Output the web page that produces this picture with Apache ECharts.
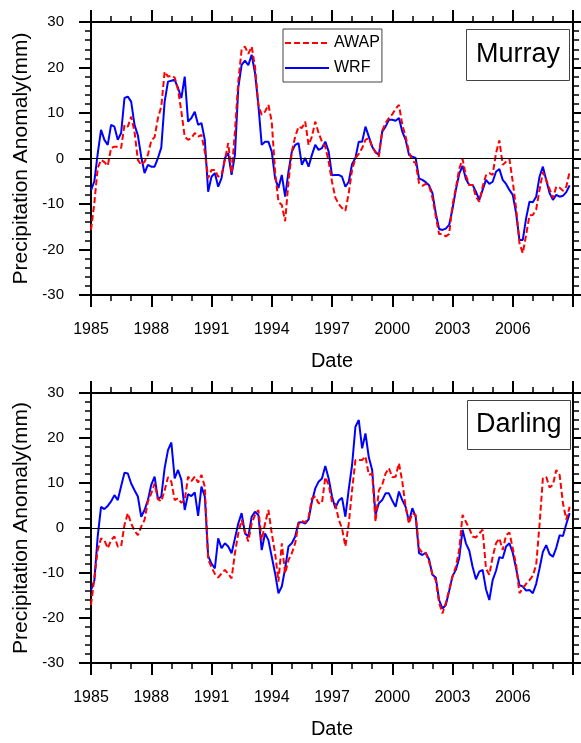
<!DOCTYPE html>
<html><head><meta charset="utf-8">
<script src="https://cdn.jsdelivr.net/npm/echarts@6/dist/echarts.min.js"></script>
<style>html,body{margin:0;padding:0;background:#fff}#c{width:581px;height:743px}</style>
</head><body><div id="c"></div>
<script>
const startYear = 1985;
const monthStep = 2;
const xTickLabels = ['1985','1988','1991','1994','1997','2000','2003','2006'];
const seriesNames = ['AWAP','WRF'];
const panelNames = ['Murray','Darling'];

const murrayAwap = [-15.7,-9.8,-2.1,-0.3,-0.8,-1.6,2.3,2.6,2.6,2.3,7.4,7.0,9.2,5.9,-0.3,-1.4,-0.7,0.8,3.9,4.7,
8.9,11.4,19.1,18.0,18.2,17.8,15.1,10.3,4.8,4.1,4.5,5.6,4.8,5.2,1.5,-4.3,-2.5,-2.5,-4.0,-3.6,
-0.3,3.4,-3.2,5.9,16.9,23.9,24.6,23.0,24.6,20.2,11.8,9.6,10.3,11.8,8.1,-2.9,-9.5,-10.2,-13.8,-5.1,
1.5,4.8,7.0,6.7,8.1,3.0,4.8,8.1,5.6,3.7,2.6,-0.7,-5.1,-8.6,-10.0,-10.9,-11.5,-7.6,-2.5,0.1,
1.0,2.3,4.1,4.5,2.6,1.4,0.4,6.1,7.8,8.9,9.7,10.9,11.8,7.4,4.8,1.5,-0.5,-1.0,-5.4,-6.0,
-5.6,-6.0,-8.6,-12.7,-16.6,-16.6,-17.1,-16.6,-10.2,-6.5,-2.3,-0.1,-3.7,-5.8,-5.8,-8.4,-9.5,-6.2,-3.7,-3.2,
-3.6,1.2,4.0,-1.4,-0.7,-0.1,-5.1,-10.9,-18.6,-20.8,-16.8,-12.5,-12.4,-11.2,-6.9,-3.0,-4.7,-6.7,-8.7,-6.2,
-6.4,-7.1,-6.2,-2.9];
const murrayWrf = [-7,-5,1,6.3,4.1,3.0,7.4,7.0,4.1,5.6,13.3,13.6,12.5,7.4,5.1,0.4,-3.2,-1.4,-1.8,-1.8,
0.1,2.4,12.5,16.9,17.1,17.3,15.5,13.3,18.0,8.1,8.9,10.3,7.4,7.8,4.1,-7.3,-4.0,-3.2,-6.2,-4.3,
0.1,1.2,-3.6,0.8,15.5,20.6,21.5,20.5,22.8,18.8,11.8,3.0,3.7,3.7,1.5,-4.3,-6.5,-3.6,-8.4,-2.9,
1.5,3.0,3.4,-1.4,0.1,-1.8,0.8,3.0,1.9,2.3,3.7,1.5,-3.7,-3.6,-3.6,-4.0,-6.2,-5.1,-1.2,0.1,
3.7,3.7,7.0,4.8,2.6,1.4,0.8,5.9,7.0,8.5,8.5,8.3,8.9,5.9,4.1,0.8,0.4,0.1,-4.4,-4.7,
-5.2,-5.9,-7.6,-12.0,-15.5,-15.7,-15.4,-14.6,-11.1,-6.9,-3.4,-1.6,-4.5,-5.8,-5.8,-7.3,-9.1,-6.9,-4.7,-5.6,
-5.1,-2.9,-2.3,-4.7,-5.6,-6.9,-8.0,-12.0,-17.9,-17.9,-13.1,-9.5,-9.6,-8.4,-4.0,-1.8,-4.7,-7.6,-9.1,-8.0,
-8.4,-8.2,-7.4,-5.9];
const darlingAwap = [-17.1,-11.2,-4.9,-2.3,-2.7,-4.5,-2.7,-1.9,-4.1,-4.1,0.7,3.3,1.0,-0.6,-1.6,0.3,1.8,5.9,7.7,9.9,
6.4,5.9,8.4,11.3,10.3,6.2,6.6,5.6,6.2,11.4,10.4,11.4,10.1,11.8,9.2,-7.0,-8.7,-10.2,-11.0,-10.1,
-9.3,-10.2,-11.2,-5.6,-1.2,1.8,-0.8,-3.0,1.0,2.9,4.0,-2.7,1.0,4.0,-1.2,-5.6,-11.9,-3.4,-10.1,-7.1,
-5.6,-3.4,0.9,1.6,1.2,2.4,6.6,7.0,5.5,5.5,11.3,9.6,5.9,5.3,1.9,-0.1,-4.1,0.9,8.4,15.1,
15.1,15.1,15.9,11.8,12.1,1.4,8.4,9.6,12.1,13.3,11.3,11.4,14.4,10.3,4.7,1.0,3.3,2.9,-4.5,-5.5,
-5.5,-7.5,-10.2,-11.6,-16.6,-19.0,-16.7,-13.8,-10.8,-8.6,-4.9,2.9,1.4,-0.1,-1.9,-2.1,-1.2,-0.4,-9.0,-10.4,
-6.4,-3.4,-2.3,-4.9,-1.6,-1.0,-4.5,-8.2,-14.5,-13.4,-12.4,-11.6,-10.6,-8.2,0.7,11.0,11.4,9.0,9.6,12.9,
11.8,5.5,1.9,4.7];
const darlingWrf = [-13.8,-11.7,-1.9,4.7,4.2,4.9,5.9,7.3,6.2,9.3,12.3,12.1,9.9,8.4,7.0,2.5,4.0,6.2,9.6,11.4,
6.4,7.0,13.3,17.3,19.0,11.0,12.9,10.7,4.0,7.5,7.1,7.9,2.7,9.2,7.0,-6.2,-7.9,-9.0,-2.3,-4.5,
-3.4,-4.1,-5.6,-2.3,1.0,3.3,-1.2,-1.9,2.5,3.6,2.9,-4.9,-1.2,-2.7,-6.4,-10.1,-14.5,-13.0,-9.0,-4.1,
-3.4,-1.9,1.2,1.3,1.0,1.9,5.9,8.8,10.3,11.0,13.8,11.0,7.0,4.4,6.1,6.7,2.5,8.6,14.0,22.5,
24.0,17.7,21.0,15.7,12.9,2.9,5.5,6.2,7.7,7.7,6.1,4.7,8.1,6.2,4.7,1.4,4.4,2.5,-5.6,-6.0,
-5.5,-7.0,-10.4,-11.0,-16.0,-17.9,-17.1,-14.0,-10.7,-9.3,-6.7,-0.4,-3.4,-5.0,-8.6,-11.4,-9.7,-9.3,-13.6,-16.0,
-11.6,-9.5,-6.5,-6.7,-4.1,-3.4,-5.5,-9.0,-12.7,-13.0,-13.9,-13.8,-14.5,-12.4,-9.0,-5.3,-3.8,-5.8,-6.4,-4.4,
-1.6,-1.8,0.9,3.3];

const FONT = "'Liberation Sans', Arial, Helvetica, sans-serif";
const toPairs = arr => arr.map((v, i) => [i * monthStep / 12, v]);

function xAx(gridIndex, pos, main) {
  return {
    type: 'value', gridIndex: gridIndex, position: pos, min: 0, max: 24, interval: 3,
    axisLine: {show: true, onZero: false, lineStyle: {color: '#000', width: 2}},
    axisTick: {show: true, inside: false, length: 12, lineStyle: {color: '#000', width: 2}},
    minorTick: {show: true, splitNumber: 3, length: 6, lineStyle: {color: '#000', width: 1.5}},
    splitLine: {show: false}, minorSplitLine: {show: false},
    axisLabel: {show: main, margin: 27, fontSize: 16, color: '#000', fontFamily: FONT,
      formatter: v => xTickLabels[Math.round(v / 3)] || ''},
    name: main ? 'Date' : '', nameLocation: 'middle', nameGap: 56,
    nameTextStyle: {fontSize: 20, color: '#000', fontFamily: FONT}
  };
}
function yAx(gridIndex, pos, main) {
  return {
    type: 'value', gridIndex: gridIndex, position: pos, min: -30, max: 30, interval: 10,
    axisLine: {show: true, onZero: false, lineStyle: {color: '#000', width: 2}},
    axisTick: {show: true, inside: false, length: 12, lineStyle: {color: '#000', width: 2}},
    minorTick: {show: true, splitNumber: 5, length: 6, lineStyle: {color: '#000', width: 1.5}},
    splitLine: {show: false}, minorSplitLine: {show: false},
    axisLabel: {show: main, margin: 27, fontSize: 15, color: '#000', fontFamily: FONT},
    name: main ? 'Precipitation Anomaly(mm)' : '', nameLocation: 'middle', nameGap: 56,
    nameTextStyle: {fontSize: 21, color: '#000', fontFamily: FONT}
  };
}
function lineSeries(name, data, g, color, dashed, z) {
  return {
    name: name, type: 'line', xAxisIndex: g * 2, yAxisIndex: g * 2, data: toPairs(data),
    symbol: 'none', showSymbol: false, z: z, silent: true,
    lineStyle: {color: color, width: 2, type: dashed ? [6, 3] : 'solid'},
    itemStyle: {color: color}
  };
}
function zeroLine(g) {
  return {
    type: 'line', xAxisIndex: g * 2, yAxisIndex: g * 2, data: [], z: 1, silent: true,
    markLine: {silent: true, symbol: 'none', label: {show: false},
      lineStyle: {color: '#000', width: 1, type: 'solid'}, data: [{yAxis: 0}]}
  };
}

const chart = echarts.init(document.getElementById('c'), null, {renderer: 'canvas'});
chart.setOption({
  animation: false,
  backgroundColor: '#fff',
  textStyle: {fontFamily: FONT},
  grid: [
    {left: 91, top: 22, width: 482, height: 273},
    {left: 91, top: 393, width: 482, height: 270}
  ],
  xAxis: [xAx(0, 'bottom', true), xAx(0, 'top', false), xAx(1, 'bottom', true), xAx(1, 'top', false)],
  yAxis: [yAx(0, 'left', true), yAx(0, 'right', false), yAx(1, 'left', true), yAx(1, 'right', false)],
  title: [
    {text: panelNames[0], left: 466, top: 29, padding: [10, 10], borderColor: '#444', borderWidth: 1,
      textStyle: {fontSize: 27, fontWeight: 'normal', color: '#000', lineHeight: 32, fontFamily: FONT}},
    {text: panelNames[1], left: 467, top: 400, padding: [9, 9], borderColor: '#444', borderWidth: 1,
      textStyle: {fontSize: 27, fontWeight: 'normal', color: '#000', lineHeight: 32, fontFamily: FONT}}
  ],
  legend: {
    data: seriesNames, orient: 'vertical', left: 283, top: 29,
    padding: [6, 2, 6, 1], itemGap: 9, itemWidth: 44, itemHeight: 16,
    borderColor: '#444', borderWidth: 1, selectedMode: false,
    itemStyle: {opacity: 0, borderWidth: 0},
    textStyle: {fontSize: 16, color: '#000', fontFamily: FONT}
  },
  series: [
    zeroLine(0), zeroLine(1),
    lineSeries(seriesNames[1], murrayWrf, 0, '#0000ff', false, 2),
    lineSeries(seriesNames[0], murrayAwap, 0, '#ff0000', true, 3),
    lineSeries(seriesNames[1], darlingWrf, 1, '#0000ff', false, 2),
    lineSeries(seriesNames[0], darlingAwap, 1, '#ff0000', true, 3)
  ]
});
</script></body></html>
